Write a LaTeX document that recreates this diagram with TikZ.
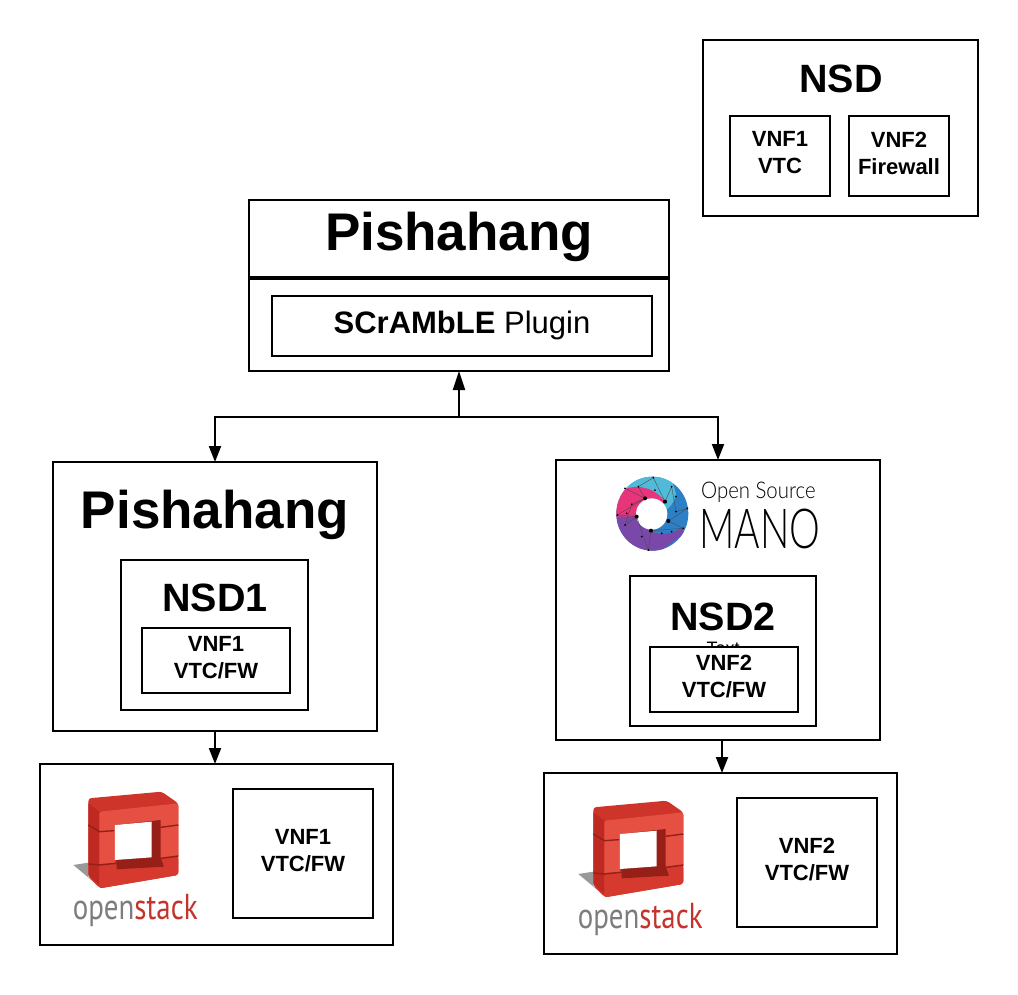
\documentclass[tikz,border=0pt]{standalone}
\usepackage{graphicx}
\usepackage{fontspec}
\setmainfont{Liberation Sans}
\newfontfamily\stackfont{PT Sans}
\newfontfamily\manofont{Lato Light}
\usetikzlibrary{arrows.meta}
\definecolor{stacktop}{RGB}{206,52,42}
\definecolor{stackside}{RGB}{190,42,34}
\definecolor{stackdark}{RGB}{150,32,24}
\definecolor{stacklight}{RGB}{229,80,66}
\definecolor{stackbase}{RGB}{214,58,46}
\definecolor{stackgrey}{RGB}{125,125,128}
\definecolor{stacktext}{RGB}{196,52,44}
\definecolor{manoteal}{RGB}{80,186,216}
\definecolor{manoblue}{RGB}{44,128,198}
\definecolor{manopurple}{RGB}{122,72,168}
\definecolor{manopink}{RGB}{232,52,122}
\tikzset{
	framebox/.style={draw=black, line width=2pt, fill=white, inner sep=0pt, outer sep=0pt},
	bigtitle/.style={inner sep=0pt, font=\bfseries\fontsize{53}{60}\selectfont},
	midtitle/.style={inner sep=0pt, font=\bfseries\fontsize{39.5}{44}\selectfont},
	vnflabel/.style={inner sep=0pt, yshift=3pt, align=center, font=\bfseries\fontsize{22}{27}\selectfont},
	hiddentext/.style={inner sep=0pt, font=\fontsize{18}{20}\selectfont},
	linkarrow/.style={line width=2pt, -{Triangle[length=16pt,width=12pt]}},
	openstacklogo/.pic={
		% sombra y cubo
		\fill[black!40] (100,285) -- (145,278) -- (145,320) -- (160,335) -- cycle;
		\fill[stacktop, rounded corners=3pt] (145,85) -- (365,65) -- (415,100) -- (415,315) -- (180,355) -- (145,320) -- cycle;
		\fill[stackside] (145,100) -- (178,125) -- (178,345) -- (145,315) -- cycle;
		% frente
		\fill[stacklight, rounded corners=2pt] (178,125) -- (415,100) -- (415,165) -- (178,185) -- cycle;
		\fill[stacklight] (178,185) -- (225,182) -- (225,278) -- (178,282) -- cycle;
		\fill[stacklight] (360,172) -- (415,165) -- (415,258) -- (360,265) -- cycle;
		\fill[stackbase, rounded corners=2pt] (178,285) -- (415,262) -- (415,315) -- (178,355) -- cycle;
		% hueco
		\fill[stackdark] (225,165) -- (362,150) -- (362,262) -- (372,290) -- (230,298) -- cycle;
		\fill[white] (225,165) -- (335,155) -- (335,262) -- (225,270) -- cycle;
		% juntas
		\draw[stackdark, line width=1.4pt] (145,165) -- (178,185) -- (222,182);
		\draw[stackdark, line width=1.4pt] (362,172) -- (415,165);
		\draw[stackdark, line width=1.4pt] (145,282) -- (178,285) -- (228,280);
		\draw[stackdark, line width=1.4pt] (362,265) -- (415,258);
		\node[inner sep=0pt, anchor=base west, font=\stackfont\fontsize{34}{34}\selectfont] (-label) at (98,449)
			{\scalebox{0.85}[1.06]{\textcolor{stackgrey}{open}\textcolor{stacktext}{stack}}};
	},
	osmlogo/.pic={
		\begin{scope}
			\clip (157,146) ellipse (108 and 111);
			\fill[manoblue] (30,20) rectangle (280,270);
			\fill[manoteal] (155,145) -- (60,60) -- (160,20) -- (215,45) -- (228,85) .. controls (225,105) and (215,120) .. (205,130) -- cycle;
			\fill[manopurple] (155,145) -- (50,150) -- (40,265) -- (150,280) -- (255,205) -- (245,188) .. controls (210,212) and (170,212) .. (150,195) -- cycle;
			\fill[manopink] (155,145) -- (195,110) .. controls (170,75) and (125,55) .. (75,72) -- (30,100) -- (45,155) -- (110,155) -- cycle;
		\end{scope}
		\fill[white] (155,147) circle (47);
		\draw[black!70, line width=0.4pt] (75,70) -- (135,100) -- (115,65) -- (160,38) -- (195,110) -- (215,65) -- (228,140) -- (262,130) -- (205,168) -- (250,190) -- (153,197) -- (145,255) -- (110,155) -- (52,150) -- (135,100) -- (95,118) -- (75,180) -- (110,155);
		\foreach \px/\py in {135/100,195/110,110/155,153/197,205/168}
		\fill[black] (\px,\py) circle (6);
		\foreach \px/\py in {75/70,115/65,160/38,215/65,228/95,228/140,262/130,250/190,215/200,185/205,145/255,125/215,75/180,52/150,95/118,80/145,165/75}
		\fill[black] (\px,\py) circle (3);
	}
}
\begin{document}
\begin{tikzpicture}[x=1pt, y=-1pt, line cap=butt, line join=miter]
	\useasboundingbox (0,0) rectangle (1018,994);

	% Descriptor arriba a la derecha
	\node[framebox, minimum width=275pt, minimum height=176pt] (nsdbox) at (840.5,128) {};
	\node[midtitle] (nsdtitle) at (841,79) {NSD};
	\node[framebox, minimum width=100pt, minimum height=80pt] (nsdvtc) at (780,156) {};
	\node[vnflabel] (nsdvtcname) at (nsdvtc) {VNF1\\VTC};
	\node[framebox, minimum width=100pt, minimum height=80pt] (nsdfw) at (899,156) {};
	\node[vnflabel] (nsdfwname) at (nsdfw) {VNF2\\Firewall};

	% Pishahang con el plugin
	\node[framebox, minimum width=420pt, minimum height=171pt] (mainbox) at (459,285.5) {};
	\node[bigtitle] (maintitle) at (459,237) {Pishahang};
	\coordinate (splitleft) at (249,278);
	\coordinate (splitright) at (669,278);
	\draw[line width=3.5pt] (splitleft) -- (splitright);
	\node[framebox, minimum width=380pt, minimum height=60pt, font=\fontsize{31}{36}\selectfont] (pluginbox) at (462,325.5) {\textbf{SCrAMbLE} Plugin};

	% Lado izquierdo
	\node[framebox, minimum width=324pt, minimum height=269pt] (leftmano) at (215,596.5) {};
	\node[bigtitle] (lefttitle) at (215,515) {Pishahang};
	\node[framebox, minimum width=187pt, minimum height=150pt] (nsdonebox) at (214.5,635) {};
	\node[midtitle] (nsdonetitle) at (215,598) {NSD1};
	\node[hiddentext] (nsdonetext) at (216,634.5) {Text};
	\node[framebox, minimum width=148pt, minimum height=65pt] (vnfonebox) at (216,660.5) {};
	\node[vnflabel] (vnfonename) at (vnfonebox) {VNF1\\VTC/FW};
	\node[framebox, minimum width=353pt, minimum height=181pt] (leftcloud) at (216.5,854.5) {};
	\node[framebox, minimum width=140pt, minimum height=129pt] (leftvnf) at (303,853.5) {};
	\node[vnflabel] (leftvnfname) at (leftvnf) {VNF1\\VTC/FW};
	\pic[scale=0.3333] (leftlogo) at (40,770) {openstacklogo};

	% Lado derecho
	\node[framebox, minimum width=324pt, minimum height=280pt] (rightmano) at (718,600) {};
	\pic[scale=0.3333] (osm) at (600,465) {osmlogo};
	\node[inner sep=0pt, anchor=base west, font=\manofont\fontsize{23}{26}\selectfont] (osmtop) at (701,498) {\scalebox{0.885}[1]{Open Source}};
	\node[inner sep=0pt, anchor=base west, font=\manofont\fontsize{48}{50}\selectfont] (osmname) at (699,548) {\scalebox{0.81}[1.15]{MANO}};
	\node[framebox, minimum width=186pt, minimum height=150pt] (nsdtwobox) at (723,651) {};
	\node[midtitle] (nsdtwotitle) at (723,617) {NSD2};
	\node[hiddentext] (nsdtwotext) at (723,648) {Text};
	\node[framebox, minimum width=148pt, minimum height=65pt] (vnftwobox) at (724,679.5) {};
	\node[vnflabel] (vnftwoname) at (vnftwobox) {VNF2\\VTC/FW};
	\node[framebox, minimum width=353pt, minimum height=181pt] (rightcloud) at (720.5,863.5) {};
	\node[framebox, minimum width=140pt, minimum height=129pt] (rightvnf) at (807,862.5) {};
	\node[vnflabel] (rightvnfname) at (rightvnf) {VNF2\\VTC/FW};
	\pic[scale=0.3333] (rightlogo) at (545,779) {openstacklogo};

	% Conexiones
	\coordinate (junction) at (459,417);
	\draw[line width=2pt, -{Triangle[length=19pt,width=12pt]}] (junction) -- (mainbox.south);
	\draw[linkarrow] (junction) -| (leftmano.north);
	\draw[linkarrow] (junction) -| (rightmano.north);
	\draw[linkarrow] (leftmano.south) -- (leftmano.south |- leftcloud.north);
	\draw[linkarrow] ([xshift=4pt]rightmano.south) -- ([xshift=4pt]rightmano.south |- rightcloud.north);
\end{tikzpicture}
\end{document}
